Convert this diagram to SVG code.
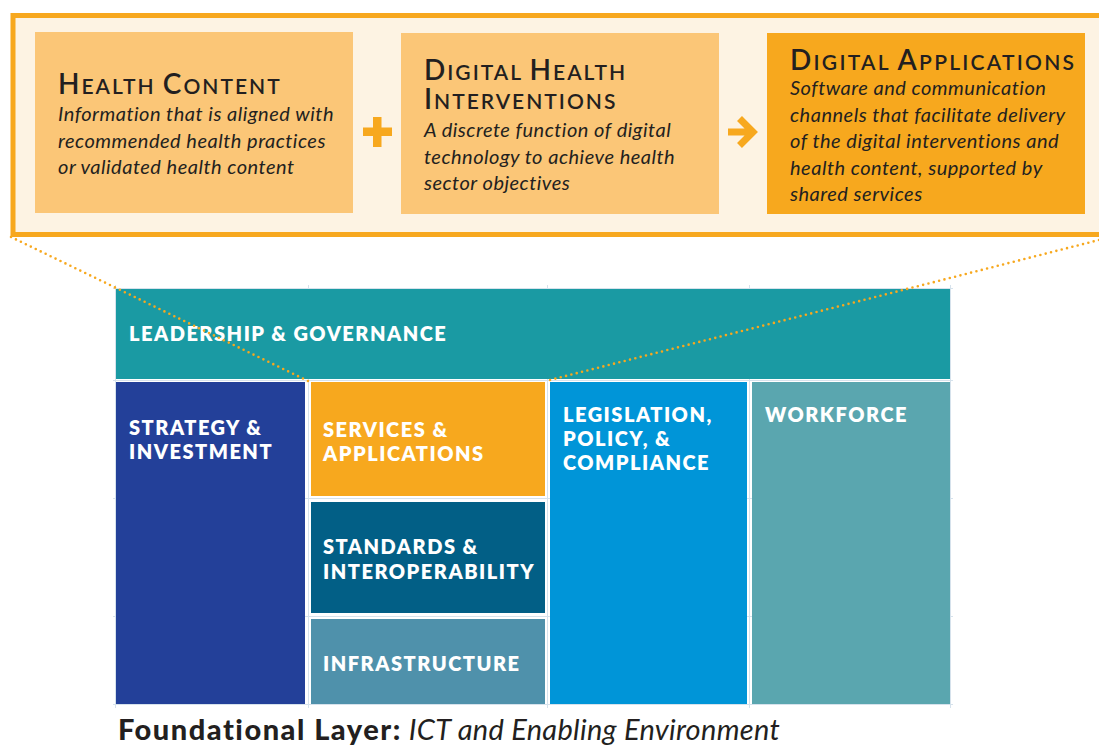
<svg xmlns="http://www.w3.org/2000/svg" width="1099" height="747" viewBox="0 0 1099 747">
<style>
.ttl{font-family:Lato,"Liberation Sans",sans-serif;font-weight:600;fill:#231F20;letter-spacing:2px}
.big{font-size:28px}
.sm{font-size:21px}
.dsc{font-family:Lato,"Liberation Sans",sans-serif;font-style:italic;font-size:20px;fill:#231F20;letter-spacing:0.5px}
.lbl{font-family:Lato,"Liberation Sans",sans-serif;font-weight:800;font-size:20px;fill:#FFFFFF;letter-spacing:1.5px}
.grid{stroke:#D6E2EC;stroke-width:1;fill:none}
.dot{stroke:#F7A81E;stroke-width:2.6;stroke-linecap:round;stroke-dasharray:0 5.5;fill:none}
</style>
<rect width="1099" height="747" fill="#FFFFFF"/>
<g id="frame">
<rect x="13" y="15.5" width="1095" height="219" fill="#FDF3E3" stroke="#F7A81E" stroke-width="5"/>
</g>
<g id="health-content">
<rect x="35" y="32" width="318" height="181" fill="#FBC677"/>
<text class="ttl" x="58" y="94"><tspan class="big">H</tspan><tspan class="sm">EALTH </tspan><tspan class="big">C</tspan><tspan class="sm">ONTENT</tspan></text>
<text class="dsc" x="58" y="121">Information that is aligned with</text>
<text class="dsc" x="58" y="147.5">recommended health practices</text>
<text class="dsc" x="58" y="174">or validated health content</text>
</g>
<g id="plus">
<rect x="363" y="127.5" width="29" height="8.5" fill="#F7A81E"/>
<rect x="373" y="117" width="8.5" height="30" fill="#F7A81E"/>
</g>
<g id="digital-health-interventions">
<rect x="401" y="33" width="318" height="181" fill="#FBC677"/>
<text class="ttl" x="424" y="79.5"><tspan class="big">D</tspan><tspan class="sm">IGITAL </tspan><tspan class="big">H</tspan><tspan class="sm">EALTH</tspan></text>
<text class="ttl" x="424" y="109"><tspan class="big">I</tspan><tspan class="sm">NTERVENTIONS</tspan></text>
<text class="dsc" x="424" y="137">A discrete function of digital</text>
<text class="dsc" x="424" y="163.5">technology to achieve health</text>
<text class="dsc" x="424" y="190">sector objectives</text>
</g>
<g id="arrow">
<path d="M728 132 H753 M739.5 118.5 L753 132 L739.5 145.5" stroke="#F7A81E" stroke-width="7" fill="none"/>
</g>
<g id="digital-applications">
<rect x="767" y="33" width="318" height="181" fill="#F7A81E"/>
<text class="ttl" x="790" y="69.5" style="letter-spacing:2.25px"><tspan class="big">D</tspan><tspan class="sm">IGITAL </tspan><tspan class="big">A</tspan><tspan class="sm">PPLICATIONS</tspan></text>
<text class="dsc" x="790" y="95">Software and communication</text>
<text class="dsc" x="790" y="121.5">channels that facilitate delivery</text>
<text class="dsc" x="790" y="148">of the digital interventions and</text>
<text class="dsc" x="790" y="174.5">health content, supported by</text>
<text class="dsc" x="790" y="201">shared services</text>
</g>
<g id="grid">
<path class="grid" d="M113 288.5 H953 M113 380.5 H953 M113 498.5 H953 M113 616.5 H953 M113 704.5 H953 M308.5 285 V708 M547.5 285 V708 M749.5 285 V708 M115.5 285 V708 M950.5 285 V708"/>
</g>
<g id="leadership-governance">
<rect x="116" y="289" width="834" height="90" fill="#1A9AA3"/>
<text class="lbl" x="129" y="341">LEADERSHIP &amp; GOVERNANCE</text>
</g>
<g id="strategy-investment">
<rect x="116" y="382" width="189" height="322" fill="#234099"/>
<text class="lbl" x="129" y="435">STRATEGY &amp;</text>
<text class="lbl" x="129" y="459">INVESTMENT</text>
</g>
<g id="services-applications">
<rect x="311" y="382" width="234" height="114" fill="#F7A81E"/>
<text class="lbl" x="323" y="437">SERVICES &amp;</text>
<text class="lbl" x="323" y="461">APPLICATIONS</text>
</g>
<g id="standards-interoperability">
<rect x="311" y="502" width="234" height="111" fill="#025F86"/>
<text class="lbl" x="323" y="554">STANDARDS &amp;</text>
<text class="lbl" x="323" y="579">INTEROPERABILITY</text>
</g>
<g id="infrastructure">
<rect x="311" y="619" width="234" height="85" fill="#4F91AB"/>
<text class="lbl" x="323" y="671">INFRASTRUCTURE</text>
</g>
<g id="legislation-policy-compliance">
<rect x="550" y="382" width="197" height="322" fill="#0095D8"/>
<text class="lbl" x="563" y="422">LEGISLATION,</text>
<text class="lbl" x="563" y="446">POLICY, &amp;</text>
<text class="lbl" x="563" y="470">COMPLIANCE</text>
</g>
<g id="workforce">
<rect x="752" y="382" width="198" height="322" fill="#5AA6AF"/>
<text class="lbl" x="765" y="422">WORKFORCE</text>
</g>
<g id="connectors">
<path class="dot" d="M11 237 L308 381"/>
<path class="dot" d="M1099 240 L546 381"/>
</g>
<g id="caption">
<text x="118" y="740" style="font-family:Lato,'Liberation Sans',sans-serif;font-size:29px;fill:#231F20"><tspan font-weight="900" style="letter-spacing:1.5px">Foundational Layer:</tspan><tspan font-style="italic" style="letter-spacing:0.3px"> ICT and Enabling Environment</tspan></text>
</g>
</svg>
